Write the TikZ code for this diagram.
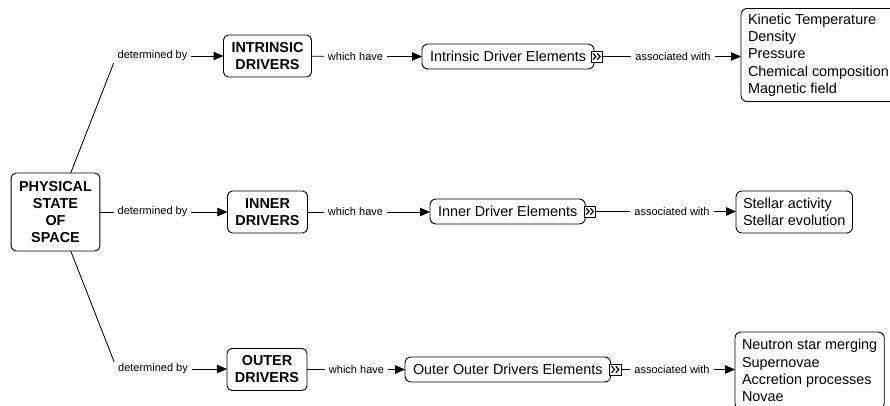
\documentclass[tikz,border=0pt]{standalone}
\usepackage{fontspec}
\setmainfont{Liberation Sans}
\usetikzlibrary{arrows.meta}
\begin{document}
\begin{tikzpicture}[x=1pt,y=-1pt,
  box/.style={draw, line width=0.9pt, rounded corners=5pt, font=\fontsize{14.4}{17}\selectfont\bfseries, align=center, inner xsep=8pt, inner ysep=0pt, outer sep=0pt},
  elbox/.style={draw, line width=0.9pt, rounded corners=6pt, font=\fontsize{14.4}{17}\selectfont, inner xsep=8pt, inner ysep=0pt, minimum height=25pt, outer sep=0pt, anchor=west},
  listbox/.style={draw, line width=0.9pt, rounded corners=6pt, font=\fontsize{14.4}{17.3}\selectfont, align=left, inner xsep=7pt, inner ysep=0pt, outer sep=0pt, anchor=west},
  lab/.style={font=\fontsize{11}{13}\selectfont, inner xsep=4pt, inner ysep=2pt, outer sep=0pt},
  icon/.style={draw, line width=0.7pt, fill=white, minimum width=11.5pt, minimum height=11pt, inner sep=0pt, outer sep=0pt, anchor=west,
    path picture={\begin{scope}[shift={(path picture bounding box.center)}, line width=1.2pt]
      \draw (-3.8pt,3.2pt) -- (-0.9pt,0pt) -- (-3.8pt,-3.2pt);
      \draw (0.4pt,3.2pt) -- (3.3pt,0pt) -- (0.4pt,-3.2pt);
    \end{scope}}},
  con/.style={line width=0.85pt},
  arr/.style={line width=0.85pt, -{Triangle[length=10pt,width=8.5pt]}}
]
\useasboundingbox (0,0) rectangle (890,405);
\clip (0,0) rectangle (890,405);

% main nodes
\node[box, minimum height=78pt] (phys) at (55.5,212) {PHYSICAL\\STATE\\OF\\SPACE};
\node[box, minimum height=42pt] (intr) at (267.5,56) {INTRINSIC\\DRIVERS};
\node[box, minimum height=42pt] (inner) at (267.5,212) {INNER\\DRIVERS};
\node[box, minimum height=42pt] (outer) at (267,369.5) {OUTER\\DRIVERS};

% element boxes
\node[elbox] (el1) at (422,56.5) {Intrinsic Driver Elements};
\node[elbox] (el2) at (430,211.5) {Inner Driver Elements};
\node[elbox] (el3) at (405,369.5) {Outer Outer Drivers Elements};

\node[icon] (ic1) at ([xshift=-3pt]el1.east) {};
\node[icon] (ic2) at ([xshift=-1pt]el2.east) {};
\node[icon] (ic3) at ([xshift=-1pt]el3.east) {};

% list boxes
\node[listbox, minimum height=93pt] (r1) at (741,55) {Kinetic Temperature\\Density\\Pressure\\Chemical composition\\Magnetic field};
\node[listbox, minimum height=42pt] (r2) at (736,212) {Stellar activity\\Stellar evolution};
\node[listbox, minimum height=77pt] (r3) at (735,370.5) {Neutron star merging\\Supernovae\\Accretion processes\\Novae};

% labels
\node[lab] (d1) at (152.5,56) {determined by};
\node[lab] (d2) at (152.5,212) {determined by};
\node[lab] (d3) at (153,369) {determined by};
\node[lab] (w1) at (355.5,56.5) {which have};
\node[lab] (w2) at (355.5,212) {which have};
\node[lab] (w3) at (356.5,369.5) {which have};
\node[lab] (a1) at (673,56.5) {associated with};
\node[lab] (a2) at (672,211.5) {associated with};
\node[lab] (a3) at (672,369.5) {associated with};

% connectors
\draw[con] (phys) -- (d1.south west);
\draw[con] (phys) -- (d2);
\draw[con] (phys) -- (d3.north west);
\draw[arr] (d1) -- (d1 -| intr.west);
\draw[arr] (d2) -- (d2 -| inner.west);
\draw[arr] (d3) -- (d3 -| outer.west);

\draw[con] (intr) -- (w1);
\draw[con] (inner) -- (w2);
\draw[con] (outer) -- (w3);
\draw[arr] (w1) -- (w1 -| el1.west);
\draw[arr] (w2) -- (w2 -| el2.west);
\draw[arr] (w3) -- (w3 -| el3.west);

\draw[con] (ic1) -- (a1);
\draw[con] (ic2) -- (a2);
\draw[con] (ic3) -- (a3);
\draw[arr] (a1) -- (a1 -| r1.west);
\draw[arr] (a2) -- (a2 -| r2.west);
\draw[arr] (a3) -- (a3 -| r3.west);
\end{tikzpicture}
\end{document}
